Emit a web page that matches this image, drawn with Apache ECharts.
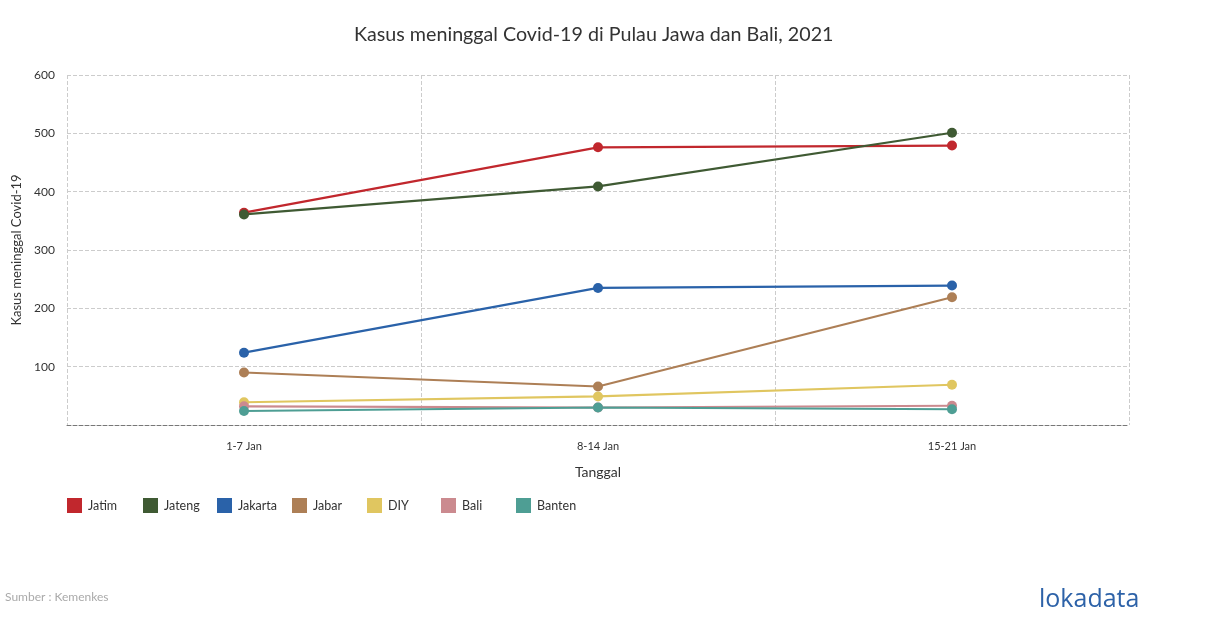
<!DOCTYPE html>
<html><head><meta charset="utf-8">
<script src="https://cdn.jsdelivr.net/npm/echarts@6/dist/echarts.min.js"></script>
<style>html,body{margin:0;padding:0;background:#fff}#c{width:1210px;height:628px}</style>
</head><body><div id="c"></div>
<script>
const categories = ['1-7 Jan', '8-14 Jan', '15-21 Jan'];
const jatim   = [364, 476, 479];
const jateng  = [361, 409, 501];
const jakarta = [124, 235, 239];
const jabar   = [90, 66, 219];
const diy     = [39, 49, 69];
const bali    = [32, 30, 33];
const banten  = [24, 30, 27];
const seriesNames = ['Jatim', 'Jateng', 'Jakarta', 'Jabar', 'DIY', 'Bali', 'Banten'];
const seriesData = [jatim, jateng, jakarta, jabar, diy, bali, banten];
const colors = ['#c1272d', '#3f5a33', '#2a62a9', '#ad7f56', '#e0c660', '#cb8a8f', '#4e9e94'];
const yTicks = [0, 100, 200, 300, 400, 500, 600];
const legendLefts = [62, 138, 212, 287, 362, 436, 511];

const chart = echarts.init(document.getElementById('c'));
chart.setOption({
  animation: false,
  color: colors,
  textStyle: { fontFamily: 'Lato' },
  title: {
    text: 'Kasus meninggal Covid-19 di Pulau Jawa dan Bali, 2021',
    left: 349, top: 20,
    textStyle: { fontFamily: 'Lato', fontSize: 19.7, fontWeight: 'normal', color: '#333' }
  },
  legend: seriesNames.map((n, i) => ({
    left: legendLefts[i], top: 493,
    itemWidth: 15, itemHeight: 15, itemGap: 6,
    icon: 'rect',
    textStyle: { fontFamily: 'Lato', fontSize: 12.5, color: '#333', padding: [0, 0, 0, 1] },
    data: [n]
  })),
  grid: { left: 67, right: 81, top: 75, bottom: 203 },
  xAxis: {
    type: 'category', data: categories, boundaryGap: true,
    name: 'Tanggal', nameLocation: 'middle', nameGap: 40,
    nameTextStyle: { fontFamily: 'Lato', fontSize: 14, color: '#333' },
    axisLine: { show: true, lineStyle: { color: '#777', type: 'dashed' } },
    axisTick: { show: false },
    axisLabel: { fontSize: 11, color: '#333', margin: 16 },
    splitLine: { show: true, interval: 0, lineStyle: { color: '#ccc', type: 'dashed' } }
  },
  yAxis: {
    type: 'value', min: yTicks[0], max: yTicks[yTicks.length - 1], interval: 100,
    name: 'Kasus meninggal Covid-19', nameLocation: 'middle', nameGap: 37,
    nameTextStyle: { fontFamily: 'Lato', fontSize: 13, color: '#333' },
    axisLine: { show: false }, axisTick: { show: false },
    axisLabel: { fontSize: 12, color: '#333', margin: 12, showMinLabel: false },
    splitLine: { show: true, lineStyle: { color: '#ccc', type: 'dashed' } }
  },
  series: seriesNames.map((n, i) => ({
    name: n, type: 'line', data: seriesData[i],
    symbol: 'circle', symbolSize: 10,
    lineStyle: { width: 2.2 },
    itemStyle: { color: colors[i] }
  })),
  graphic: [
    { type: 'text', left: 5, top: 591, style: { text: 'Sumber : Kemenkes', fill: '#aaa', font: '12px Lato' } },
    { type: 'text', left: 1039, top: 587, style: { text: 'lokadata', fill: '#2d62a8', font: '500 25px "Open Sans"' } }
  ]
});
</script></body></html>
